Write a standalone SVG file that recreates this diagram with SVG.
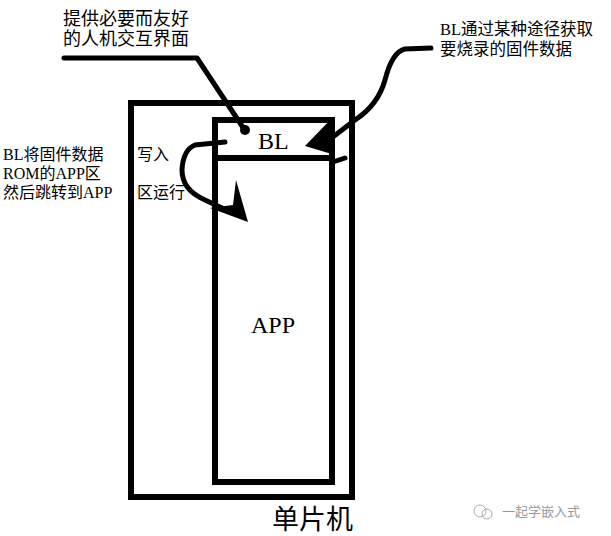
<svg xmlns="http://www.w3.org/2000/svg" width="611" height="536" viewBox="0 0 611 536">
<style>
.t{font-family:"Liberation Serif","Noto Sans CJK SC",serif;fill:#000}
.box{fill:none;stroke:#000;stroke-width:6}
.ln{fill:none;stroke:#000;stroke-width:5;stroke-linejoin:round;stroke-linecap:round}
</style>
<rect width="611" height="536" fill="#fff"/>
<g id="mcu"><rect class="box" x="131" y="103" width="221" height="394"/>
<text class="t" x="272" y="529" font-size="27">单片机</text></g>
<g id="bl"><rect class="box" x="215" y="120" width="117" height="38"/>
<text class="t" x="258" y="149" font-size="24">BL</text></g>
<g id="app"><rect class="box" x="215" y="158" width="117" height="324"/>
<text class="t" x="251" y="333" font-size="24">APP</text></g>
<g id="labels" class="t">
<g font-size="18"><text x="63" y="25">提供必要而友好</text><text x="63" y="45">的人机交互界面</text></g>
<g font-size="16.5" textLength="167"><text x="440" y="35">BL通过某种途径获取</text><text x="440" y="55">要烧录的固件数据</text></g>
<g font-size="16"><text x="3" y="160">BL将固件数据</text><text x="137" y="160">写入</text>
<text x="3" y="179">ROM的APP区</text>
<text x="3" y="198">然后跳转到APP</text><text x="137" y="198">区运行</text></g>
</g>
<g id="connectors">
<path class="ln" d="M64 58 L197 58 L242 126"/>
<circle cx="245" cy="130" r="5"/>
<path class="ln" d="M431 48 L405 49 Q392 52 385 80 Q378 105 355 120 L325 143"/>
<path d="M305 146 L333 117 L335 155 Z"/>
<path class="ln" d="M333 162 L345 158"/>
<path class="ln" d="M225 142 L195 145 Q183 150 182 170 Q182 190 205 200 L222 208"/>
<path d="M248 222 L236 180 L233 205 L210 208 Z"/>
</g>
<g id="watermark" font-family="Noto Sans CJK SC,sans-serif" font-size="13" fill="#999">
<text x="502" y="516">一起学嵌入式</text>
<circle cx="480" cy="511" r="6" fill="none" stroke="#aaa"/><circle cx="487" cy="514" r="5" fill="none" stroke="#aaa"/>
</g>
</svg>
